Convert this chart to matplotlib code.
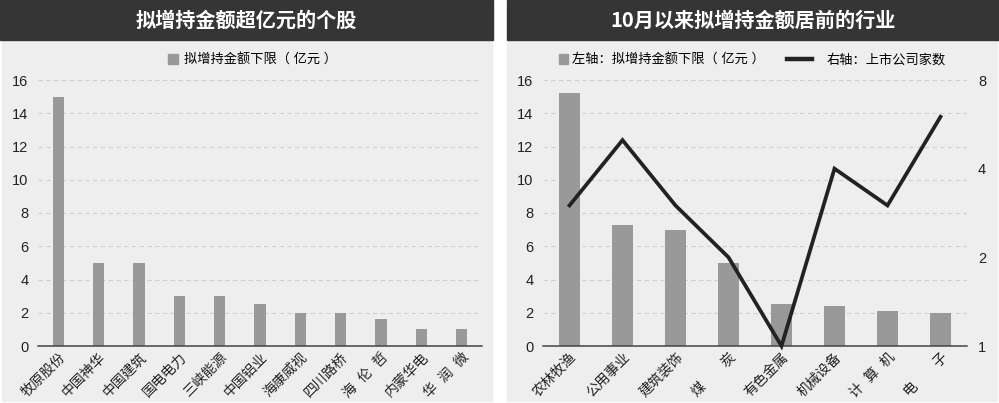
import matplotlib
matplotlib.use('Agg')
import matplotlib.pyplot as plt
from matplotlib.patches import Rectangle, Patch
from matplotlib.lines import Line2D
from matplotlib.ticker import FixedLocator, FixedFormatter

plt.rcParams['font.family'] = ['Liberation Sans', 'Noto Sans CJK SC', 'DejaVu Sans']

# left chart: stocks
stocks = ['牧原股份', '中国神华', '中国建筑', '国电电力', '三峡能源', '中国铝业',
          '海康威视', '四川路桥', '海  伦  哲', '内蒙华电', '华  润  微']
stock_amount = [15, 5, 5, 3, 3, 2.5, 2, 2, 1.6, 1, 1]

# right chart: industries
industries = ['农林牧渔', '公用事业', '建筑装饰', '煤\u3000\u3000炭', '有色金属',
              '机械设备', '计  算  机', '电\u3000\u3000子']
industry_amount = [15.2, 7.3, 7.0, 5.0, 2.5, 2.4, 2.1, 2.0]
industry_companies = [3, 5, 3, 2, 1, 4, 3, 6]

left_ticks = [0, 2, 4, 6, 8, 10, 12, 14, 16]
right_ticks = [1, 2, 4, 8]

BAR = '#999999'
BG = '#eeeeee'
HEAD = '#353535'
GRID = '#cfcfcf'
W, H = 999, 403

fig = plt.figure(figsize=(W / 100, H / 100), dpi=100)
fig.patch.set_facecolor('white')

def px_rect(x0, y0, x1, y1, color):
    fig.patches.append(Rectangle((x0 / W, 1 - y1 / H), (x1 - x0) / W, (y1 - y0) / H,
                                 transform=fig.transFigure, color=color, zorder=-5))

# panels and title bars
px_rect(2, 40, 492, 401, BG)
px_rect(0, 0, 493, 40, HEAD)
px_rect(507, 40, 997, 401, BG)
px_rect(507, 0, 999, 40, HEAD)
fig.text(246 / W, 1 - 20 / H, '拟增持金额超亿元的个股', color='white', fontsize=14.5,
         fontweight='bold', ha='center', va='center', family=['Noto Sans CJK SC'])
fig.text(753 / W, 1 - 20 / H, '10月以来拟增持金额居前的行业', color='white', fontsize=14.5,
         fontweight='bold', ha='center', va='center', family=['Noto Sans CJK SC'])

def style_axis(ax, labels):
    ax.set_facecolor(BG)
    ax.set_ylim(0, 16)
    ax.set_yticks(left_ticks)
    ax.set_xlim(-0.5, len(labels) - 0.5)
    ax.set_xticks(range(len(labels)))
    ax.set_xticklabels(labels, rotation=45, ha='right', rotation_mode='anchor', fontsize=10)
    for s in ['top', 'right', 'left']:
        ax.spines[s].set_visible(False)
    ax.spines['bottom'].set_color('#444444')
    ax.spines['bottom'].set_linewidth(1.1)
    ax.tick_params(axis='both', length=0, labelsize=10.5, colors='#222222')
    ax.tick_params(axis='x', pad=3, labelsize=10)
    ax.tick_params(axis='y', pad=7)
    ax.yaxis.grid(True, color=GRID, linestyle=(0, (4, 3)), linewidth=0.8)
    ax.set_axisbelow(True)

# left chart
ax1 = fig.add_axes([38 / W, 1 - 346 / H, (482 - 38) / W, (346 - 80) / H])
ax1.bar(range(len(stocks)), stock_amount, width=0.28, color=BAR, zorder=2)
style_axis(ax1, stocks)
ax1.legend(handles=[Patch(color=BAR, label='拟增持金额下限（ 亿元 ）')],
           loc='center left', bbox_to_anchor=(168 / W, 1 - 60 / H),
           bbox_transform=fig.transFigure, frameon=False, fontsize=9.5,
           handlelength=0.75, handleheight=0.75, handletextpad=0.5,
           borderpad=0, borderaxespad=0)

# right chart
ax2 = fig.add_axes([543 / W, 1 - 346 / H, (967 - 543) / W, (346 - 80) / H])
ax2.bar(range(len(industries)), industry_amount, width=0.4, color=BAR, zorder=2)
style_axis(ax2, industries)

ax3 = ax2.twinx()
ax3.set_yscale('log', base=2)
ax3.plot(range(len(industries)), industry_companies, color='#222222', linewidth=2.7,
         solid_joinstyle='miter', clip_on=False, zorder=3)
ax3.set_ylim(1, 8)
ax3.yaxis.set_major_locator(FixedLocator(right_ticks))
ax3.yaxis.set_major_formatter(FixedFormatter([str(t) for t in right_ticks]))
ax3.yaxis.set_minor_locator(FixedLocator([]))
ax3.tick_params(axis='y', length=0, labelsize=10.5, colors='#222222', pad=8)
for s in ax3.spines.values():
    s.set_visible(False)
ax3.patch.set_visible(False)

leg1 = ax3.legend(handles=[Patch(color=BAR, label='左轴：拟增持金额下限（ 亿元 ）')],
                  loc='center left', bbox_to_anchor=(559 / W, 1 - 60 / H),
                  bbox_transform=fig.transFigure, frameon=False, fontsize=9.5,
                  handlelength=0.7, handleheight=0.7, handletextpad=0.3,
                  borderpad=0, borderaxespad=0)
ax3.add_artist(leg1)
ax3.legend(handles=[Line2D([], [], color='#222222', linewidth=3.2, label='右轴：上市公司家数')],
           loc='center left', bbox_to_anchor=(787 / W, 1 - 60 / H),
           bbox_transform=fig.transFigure, frameon=False, fontsize=9.5,
           handlelength=1.9, handletextpad=1.1, borderpad=0, borderaxespad=0)

fig.savefig('out.png', dpi=100, facecolor='white')
